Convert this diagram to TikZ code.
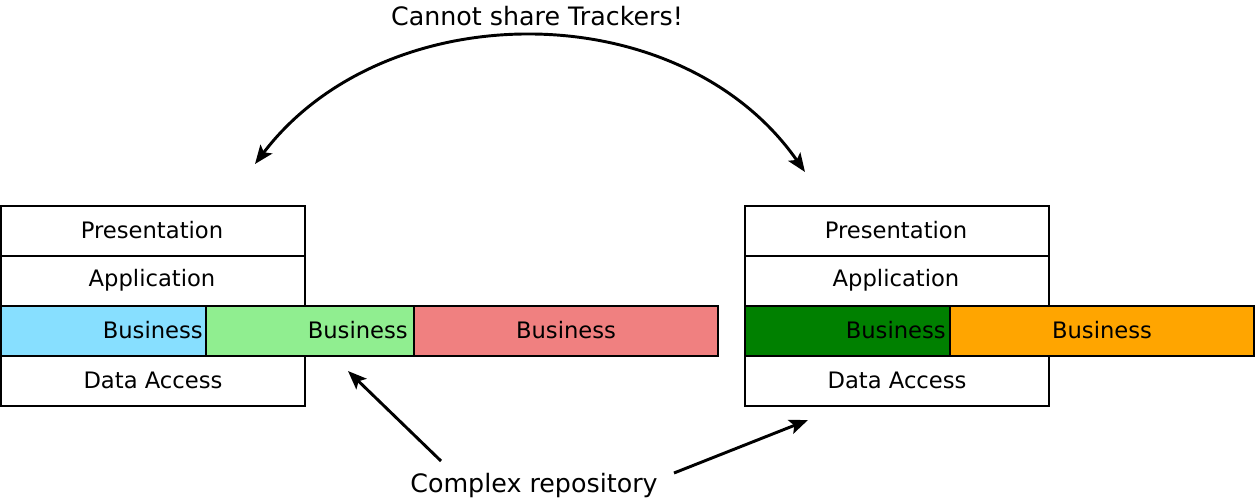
\documentclass[tikz,border=0pt]{standalone}
\usepackage{fontspec}
\setmainfont{DejaVu Sans}
\usetikzlibrary{arrows.meta}

\definecolor{skyblue}{RGB}{135,223,255}
\definecolor{palegreen}{RGB}{144,238,144}
\definecolor{lightred}{RGB}{240,128,128}
\definecolor{darkgreen}{RGB}{0,128,0}
\definecolor{tracker}{RGB}{255,165,0}

\begin{document}
\begin{tikzpicture}[x=0.75pt,y=-0.75pt,font=\fontsize{17}{20}\selectfont,
    layer/.style={line width=1.6pt},
    lbl/.style={inner sep=0pt},
    arr/.style={line width=2.2pt,-{Stealth[length=14pt,width=11pt,inset=3pt]}}]
        \useasboundingbox (0,0) rectangle (1257,501);

        % Business fills: path is fill, draw is bddry
        \path[fill=skyblue] (1,306) rectangle (206,356);
        \path[fill=palegreen] (206,306) rectangle (414,356);
        \path[fill=lightred] (414,306) rectangle (718,356);
        \path[fill=darkgreen] (745,306) rectangle (950,356);
        \path[fill=tracker] (950,306) rectangle (1254,356);

        % Left stack
        \draw[layer] (1,206) rectangle (305,256);
        \draw[layer] (1,256) rectangle (305,306);
        \draw[layer] (1,356) rectangle (305,406);
        \draw[layer] (1,306) rectangle (206,356);
        \draw[layer] (206,306) rectangle (414,356);
        \draw[layer] (414,306) rectangle (718,356);

        % Right stack
        \draw[layer] (745,206) rectangle (1049,256);
        \draw[layer] (745,256) rectangle (1049,306);
        \draw[layer] (745,356) rectangle (1049,406);
        \draw[layer] (745,306) rectangle (950,356);
        \draw[layer] (950,306) rectangle (1254,356);

        % Layer names
        \node[lbl] (lpres) at (152,230) {Presentation};
        \node[lbl] (lapp) at (152,280) {Application};
        \node[lbl,anchor=east] (lbusa) at (203,330) {Business};
        \node[lbl,anchor=east] (lbusb) at (408,330) {Business};
        \node[lbl] (lbusc) at (566,330) {Business};
        \node[lbl] (ldata) at (153,380) {Data Access};

        \node[lbl] (rpres) at (896,230) {Presentation};
        \node[lbl] (rapp) at (896,280) {Application};
        \node[lbl,anchor=east] (rbusa) at (946,330) {Business};
        \node[lbl] (rbusb) at (1102,330) {Business};
        \node[lbl] (rdata) at (897,380) {Data Access};

        % Top: trackers
        \node[lbl,font=\fontsize{19}{23}\selectfont] (share) at (537,16) {Cannot share Trackers!};
        \coordinate (ltop) at (255,164);
        \coordinate (rtop) at (805,172);
        \draw[arr,{Stealth[length=14pt,width=11pt,inset=3pt]}-{Stealth[length=14pt,width=11pt,inset=3pt]}]
            (ltop) .. controls (385,-7) and (680,-7) .. (rtop);

        % Bottom: repository
        \node[lbl,font=\fontsize{19}{23}\selectfont] (repo) at (534,486) {Complex repository};
        \coordinate (lrepo) at (441,461);
        \coordinate (lbot) at (348,371);
        \coordinate (rrepo) at (674,473);
        \coordinate (rbot) at (808,420);
        \draw[arr] (lrepo) -- (lbot);
        \draw[arr] (rrepo) -- (rbot);
    \end{tikzpicture}
\end{document}
